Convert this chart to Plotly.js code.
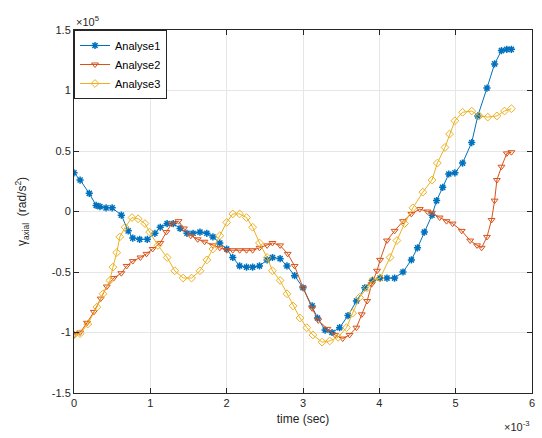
<!DOCTYPE html>
<html>
<head>
<meta charset="utf-8">
<script src="https://cdn.plot.ly/plotly-2.35.2.min.js"></script>
<style>html,body{margin:0;padding:0;background:#fff;}#chart{width:542px;height:438px;}</style>
</head>
<body>
<div id="chart"></div>
<script>
// time in units of 1e-3 sec, acceleration in units of 1e5 rad/s^2
var seriesNames = ["Analyse1", "Analyse2", "Analyse3"];

var t1 = [0, 0.08, 0.2, 0.29, 0.34, 0.42, 0.5, 0.62, 0.71, 0.77, 0.86, 0.96, 1.06, 1.13, 1.22, 1.3, 1.39, 1.48, 1.56, 1.65, 1.74, 1.82, 1.91, 2.0, 2.08, 2.17, 2.26, 2.34, 2.43, 2.53, 2.6, 2.7, 2.79, 2.89, 3.0, 3.12, 3.19, 3.29, 3.38, 3.48, 3.59, 3.7, 3.81, 3.91, 4.01, 4.1, 4.2, 4.31, 4.42, 4.5, 4.59, 4.69, 4.75, 4.83, 4.91, 4.99, 5.09, 5.21, 5.29, 5.41, 5.51, 5.6, 5.67, 5.73];
var y1 = [0.32, 0.26, 0.15, 0.05, 0.04, 0.03, 0.03, -0.03, -0.16, -0.22, -0.23, -0.23, -0.18, -0.13, -0.1, -0.1, -0.14, -0.18, -0.18, -0.17, -0.18, -0.21, -0.26, -0.31, -0.38, -0.45, -0.46, -0.46, -0.45, -0.4, -0.38, -0.39, -0.45, -0.53, -0.63, -0.78, -0.88, -0.98, -1.0, -0.96, -0.86, -0.74, -0.63, -0.57, -0.55, -0.55, -0.55, -0.5, -0.4, -0.3, -0.17, -0.03, 0.09, 0.2, 0.31, 0.32, 0.4, 0.57, 0.79, 1.02, 1.22, 1.33, 1.34, 1.34];

var t2 = [0, 0.08, 0.17, 0.26, 0.35, 0.43, 0.52, 0.62, 0.69, 0.77, 0.87, 0.95, 1.03, 1.13, 1.21, 1.28, 1.37, 1.44, 1.53, 1.62, 1.71, 1.82, 1.91, 2.0, 2.08, 2.17, 2.26, 2.34, 2.43, 2.53, 2.6, 2.7, 2.8, 2.89, 3.0, 3.12, 3.2, 3.32, 3.42, 3.52, 3.61, 3.7, 3.77, 3.84, 3.9, 3.97, 4.01, 4.1, 4.2, 4.31, 4.42, 4.53, 4.63, 4.69, 4.79, 4.88, 4.96, 5.08, 5.19, 5.28, 5.34, 5.41, 5.47, 5.51, 5.54, 5.6, 5.67, 5.73];
var y2 = [-1.02, -1.0, -0.92, -0.83, -0.72, -0.62, -0.55, -0.51, -0.45, -0.41, -0.38, -0.35, -0.31, -0.26, -0.17, -0.1, -0.08, -0.14, -0.2, -0.23, -0.25, -0.28, -0.3, -0.32, -0.32, -0.32, -0.32, -0.32, -0.3, -0.28, -0.26, -0.28, -0.35, -0.45, -0.63, -0.8, -0.9, -0.97, -1.02, -1.05, -1.02, -0.96, -0.85, -0.74, -0.6, -0.49, -0.4, -0.24, -0.16, -0.08, -0.02, 0.02, 0.0, -0.01, -0.05, -0.08, -0.1, -0.16, -0.24, -0.28, -0.3, -0.21, -0.07, 0.09, 0.26, 0.37, 0.48, 0.49];

var t3 = [0, 0.08, 0.18, 0.3, 0.38, 0.47, 0.51, 0.56, 0.6, 0.67, 0.76, 0.84, 0.93, 0.99, 1.1, 1.22, 1.32, 1.43, 1.54, 1.65, 1.74, 1.82, 1.91, 2.0, 2.08, 2.17, 2.26, 2.34, 2.43, 2.53, 2.6, 2.7, 2.79, 2.87, 2.96, 3.05, 3.13, 3.25, 3.35, 3.46, 3.57, 3.65, 3.74, 3.84, 3.91, 4.01, 4.14, 4.23, 4.33, 4.44, 4.57, 4.69, 4.76, 4.86, 4.92, 4.99, 5.09, 5.21, 5.31, 5.42, 5.54, 5.64, 5.73];
var y3 = [-1.02, -1.01, -0.93, -0.79, -0.68, -0.57, -0.46, -0.34, -0.21, -0.13, -0.05, -0.06, -0.1, -0.17, -0.28, -0.38, -0.49, -0.55, -0.55, -0.49, -0.4, -0.31, -0.2, -0.09, -0.02, -0.02, -0.05, -0.13, -0.26, -0.38, -0.49, -0.57, -0.68, -0.78, -0.88, -0.96, -1.02, -1.08, -1.07, -1.04, -0.96, -0.84, -0.71, -0.63, -0.57, -0.55, -0.38, -0.24, -0.1, 0.03, 0.16, 0.26, 0.4, 0.53, 0.64, 0.75, 0.82, 0.83, 0.79, 0.78, 0.79, 0.83, 0.85];

var xTicks = [0, 1, 2, 3, 4, 5, 6];
var xTickText = ["0", "1", "2", "3", "4", "5", "6"];
var yTicks = [-1.5, -1, -0.5, 0, 0.5, 1, 1.5];
var yTickText = ["-1.5", "-1", "-0.5", "0", "0.5", "1", "1.5"];

var colors = ["#0072BD", "#D95319", "#EDB120"];
var symbols = ["asterisk-open", "triangle-down-open", "diamond-open"];
var xs = [t1, t2, t3], ys = [y1, y2, y3];

var traces = xs.map(function (x, i) {
  return {
    x: x, y: ys[i], name: seriesNames[i], type: "scatter", mode: "lines+markers",
    line: {color: colors[i], width: 1},
    marker: {symbol: symbols[i], size: 6, color: colors[i], line: {color: colors[i], width: i === 0 ? 1.5 : 1}}
  };
});

var axisCommon = {
  showline: true, mirror: "ticks", linecolor: "#262626", linewidth: 1,
  ticks: "inside", ticklen: 5, tickcolor: "#262626",
  showgrid: true, gridcolor: "#e6e6e6", gridwidth: 1, zeroline: false,
  tickfont: {family: "Arial, Liberation Sans, sans-serif", size: 11, color: "#262626"}
};

var layout = {
  width: 542, height: 438,
  margin: {l: 74, r: 10, t: 30, b: 45},
  paper_bgcolor: "#fff", plot_bgcolor: "#fff",
  showlegend: true,
  legend: {
    x: 0, y: 1, xanchor: "left", yanchor: "top",
    bgcolor: "#fff", bordercolor: "#262626", borderwidth: 1,
    font: {family: "Arial, Liberation Sans, sans-serif", size: 11, color: "#000"},
    tracegroupgap: 0
  },
  xaxis: Object.assign({}, axisCommon, {
    range: [0, 6], tickvals: xTicks, ticktext: xTickText,
    title: {text: "time (sec)", font: {family: "Arial, Liberation Sans, sans-serif", size: 12, color: "#262626"}, standoff: 6}
  }),
  yaxis: Object.assign({}, axisCommon, {
    range: [-1.5, 1.5], tickvals: yTicks, ticktext: yTickText,
    title: {text: "γ<sub>axial</sub>  (rad/s<sup>2</sup>)", font: {family: "Arial, Liberation Sans, sans-serif", size: 12, color: "#262626"}, standoff: 22}
  }),
  annotations: [
    {xref: "paper", yref: "paper", x: 0, y: 1, xanchor: "left", yanchor: "bottom", yshift: 0,
     text: "×10<sup>5</sup>", showarrow: false, font: {family: "Arial, Liberation Sans, sans-serif", size: 11, color: "#262626"}},
    {xref: "paper", yref: "paper", x: 1, y: 0, xanchor: "right", yanchor: "top", yshift: -24,
     text: "×10<sup>-3</sup>", showarrow: false, font: {family: "Arial, Liberation Sans, sans-serif", size: 11, color: "#262626"}}
  ]
};

Plotly.newPlot("chart", traces, layout, {displayModeBar: false, staticPlot: true});
</script>
</body>
</html>
